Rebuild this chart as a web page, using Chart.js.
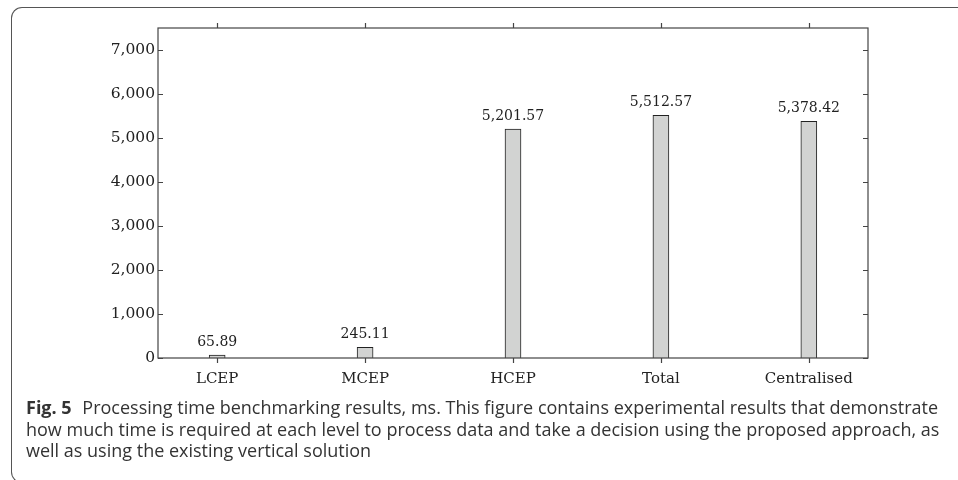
<!DOCTYPE html>
<html>
<head>
<meta charset="utf-8">
<script src="https://cdn.jsdelivr.net/npm/chart.js@4"></script>
<style>
  html, body { margin: 0; padding: 0; background: #fff; }
  #wrap { position: relative; width: 958px; height: 480px; overflow: hidden; }
  #frame {
    position: absolute; left: 11px; top: 7px; width: 1000px; height: 476px;
    border: 1.5px solid #555; border-right: none;
    border-radius: 11px 0 0 11px; box-sizing: border-box;
  }
  #chart { position: absolute; left: 0; top: 0; }
  #caption {
    position: absolute; left: 26px; top: 397px;
    font-family: "Open Sans", sans-serif; font-size: 18px; line-height: 21.5px;
    color: #333; white-space: nowrap;
  }
  #caption b { font-weight: 700; margin-right: 6px; }
</style>
</head>
<body>
<div id="wrap">
  <div id="frame"></div>
  <canvas id="chart" width="958" height="400"></canvas>
  <div id="caption">
    <b>Fig. 5</b> Processing time benchmarking results, ms. This figure contains experimental results that demonstrate<br>
    how much time is required at each level to process data and take a decision using the proposed approach, as<br>
    well as using the existing vertical solution
  </div>
</div>
<script>
const categories = ['LCEP', 'MCEP', 'HCEP', 'Total', 'Centralised'];
const times = [65.89, 245.11, 5201.57, 5512.57, 5378.42];
const yTicks = [0, 1000, 2000, 3000, 4000, 5000, 6000, 7000];

const serif = '"DejaVu Serif", serif';

const framePlugin = {
  id: 'frame',
  afterDraw(chart) {
    const ctx = chart.ctx;
    const a = chart.chartArea;
    const x = chart.scales.x, y = chart.scales.y;
    ctx.save();
    ctx.strokeStyle = '#444';
    ctx.lineWidth = 1.2;
    ctx.strokeRect(a.left, a.top, a.right - a.left, a.bottom - a.top);
    ctx.beginPath();
    yTicks.forEach(v => {
      const py = Math.round(y.getPixelForValue(v)) + 0.5;
      ctx.moveTo(a.left, py); ctx.lineTo(a.left + 5, py);
      ctx.moveTo(a.right, py); ctx.lineTo(a.right - 5, py);
    });
    categories.forEach((c, i) => {
      const px = Math.round(x.getPixelForValue(i + 1)) + 0.5;
      ctx.moveTo(px, a.bottom); ctx.lineTo(px, a.bottom + 5);
      ctx.moveTo(px, a.top); ctx.lineTo(px, a.top - 5);
    });
    ctx.stroke();
    ctx.restore();
  },
  afterDatasetsDraw(chart) {
    const ctx = chart.ctx;
    const meta = chart.getDatasetMeta(0);
    ctx.save();
    ctx.font = '14px ' + serif;
    ctx.fillStyle = '#222';
    ctx.textAlign = 'center';
    ctx.textBaseline = 'alphabetic';
    meta.data.forEach((bar, i) => {
      const label = times[i].toLocaleString('en-US', { minimumFractionDigits: 2, maximumFractionDigits: 2 });
      ctx.fillText(label, bar.x, bar.y - 9);
    });
    ctx.restore();
  }
};

new Chart(document.getElementById('chart'), {
  type: 'bar',
  data: {
    datasets: [{
      data: times.map((v, i) => ({ x: i + 1, y: v })),
      backgroundColor: '#d2d3d2',
      borderColor: '#222',
      borderWidth: 1,
      barThickness: 16
    }]
  },
  options: {
    responsive: false,
    animation: false,
    layout: { padding: { left: 0, top: 28, right: 90, bottom: 0 } },
    plugins: { legend: { display: false }, tooltip: { enabled: false } },
    scales: {
      x: {
        type: 'linear',
        min: 0.6,
        max: 5.4,
        offset: false,
        grid: { display: false, drawTicks: false },
        border: { display: false },
        afterBuildTicks: s => { s.ticks = categories.map((c, i) => ({ value: i + 1 })); },
        afterFit: s => { s.height = 42; },
        ticks: {
          autoSkip: false,
          maxRotation: 0,
          padding: 12,
          color: '#222',
          font: { family: serif, size: 15 },
          callback: v => categories[v - 1]
        }
      },
      y: {
        min: 0,
        max: 7500,
        grid: { display: false, drawTicks: false },
        border: { display: false },
        afterBuildTicks: s => { s.ticks = yTicks.map(v => ({ value: v })); },
        afterFit: s => { s.width = 158; },
        ticks: {
          padding: 3,
          color: '#222',
          font: { family: serif, size: 15.5 },
          callback: v => v.toLocaleString('en-US')
        }
      }
    }
  },
  plugins: [framePlugin]
});
</script>
</body>
</html>
